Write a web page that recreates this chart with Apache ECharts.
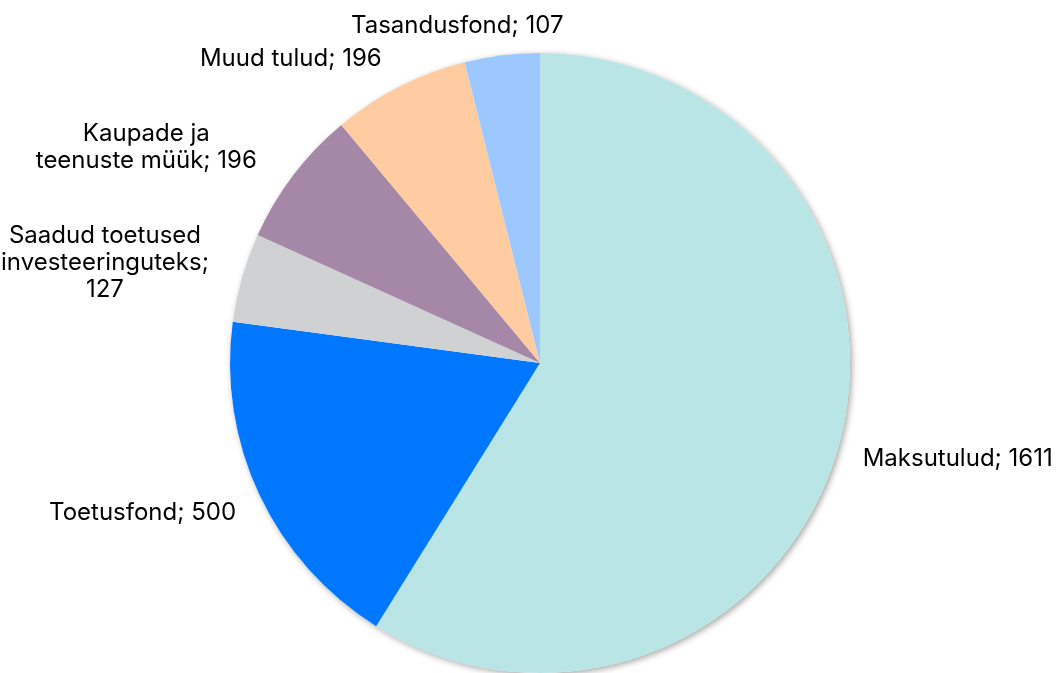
<!DOCTYPE html>
<html>
<head>
<meta charset="utf-8">
<script src="https://cdn.jsdelivr.net/npm/echarts@6/dist/echarts.min.js"></script>
<style>
  html, body { margin: 0; padding: 0; background: #fff; }
  #chart { width: 1059px; height: 673px; }
</style>
</head>
<body>
<div id="chart"></div>
<script>
// andmed
const names = ['Maksutulud', 'Toetusfond', 'Saadud toetused investeeringuteks', 'Kaupade ja teenuste müük', 'Muud tulud', 'Tasandusfond'];
const labels = ['Maksutulud; 1611', 'Toetusfond; 500', 'Saadud toetused\ninvesteeringuteks;\n127', 'Kaupade ja\nteenuste müük; 196', 'Muud tulud; 196', 'Tasandusfond; 107'];
const values = [1611, 500, 127, 196, 196, 107];
const colors = ['#bae5e7', '#0077ff', '#d0d1d3', '#a587a8', '#ffcba0', '#9cc8ff'];

const chart = echarts.init(document.getElementById('chart'));
const total = values.reduce((a, b) => a + b, 0);
const FONT = 'Inter';

// centered multi-line labels: each line in a fixed-width box
function fmt(p) {
  const lines = labels[p.dataIndex].split('\n');
  if (lines.length === 1) return lines[0];
  return lines.map(l => '{c|' + l + '}').join('\n');
}

// small nudges so labels sit where the original has them
const nudge = [[-16, 0], [15, 2], [16, -4], [0, -6], [4, 5], [71, 7]];

const option = {
  animation: false,
  series: [
    {
      // shadow underneath the whole pie
      type: 'pie',
      silent: true,
      center: ['540', '363'],
      radius: 310,
      label: { show: false },
      labelLine: { show: false },
      itemStyle: {
        color: '#ffffff',
        shadowBlur: 6,
        shadowOffsetX: 2,
        shadowOffsetY: 2,
        shadowColor: 'rgba(0,0,0,0.35)'
      },
      data: [{ value: total, name: 'kokku' }]
    },
    {
      type: 'pie',
      center: ['540', '363'],
      radius: 310,
      startAngle: 90,
      clockwise: true,
      avoidLabelOverlap: false,
      itemStyle: { borderWidth: 0 },
      label: {
        show: true,
        position: 'outside',
        formatter: fmt,
        fontFamily: FONT,
        fontSize: 24,
        color: '#000',
        lineHeight: 27,
        width: 225,
        overflow: 'none',
        distanceToLabelLine: 0,
        rich: {
          c: { width: 225, align: 'center', fontFamily: FONT, fontSize: 24, color: '#000', lineHeight: 27 }
        }
      },
      labelLine: { show: false, length: 37, length2: 5 },
      labelLayout: function (p) {
        const n = nudge[p.dataIndex];
        return { dx: n[0], dy: n[1] };
      },
      data: names.map((n, i) => ({ name: n, value: values[i], itemStyle: { color: colors[i] } }))
    }
  ]
};

chart.setOption(option);
</script>
</body>
</html>
